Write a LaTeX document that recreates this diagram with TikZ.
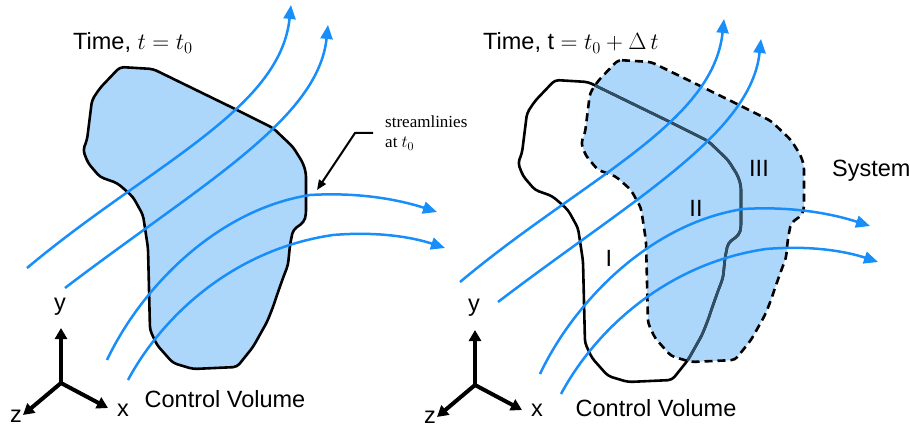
\RequirePackage{fix-cm}
\documentclass[tikz,border=0pt]{standalone}
\usepackage{fontspec}
\setmainfont{Liberation Sans}
\newfontfamily\seriffont{Liberation Serif}
\usetikzlibrary{arrows.meta}
\definecolor{cvblue}{RGB}{172,214,250}
\definecolor{streamblue}{RGB}{24,142,250}
\definecolor{slate}{RGB}{48,78,100}
\def\blob{(120,67) -- (153,69) -- (233,108) -- (273,128) -- (293,147) -- (303,163) -- (306,173) -- (306,215) -- (304,222) -- (293,230) -- (290,245) -- (288,265) -- (283,278) -- (277,295) -- (273,307) -- (267,322) -- (253,347) -- (237,367) -- (193,369) -- (173,363) -- (157,345) -- (150,330) -- (148,248) -- (143,215) -- (133,197) -- (123,188) -- (117,183) -- (100,177) -- (88,163) -- (83,150) -- (87,140) -- (92,100) -- (100,88) -- cycle}
\def\slA{(27,268) .. controls (150,165) and (280,110) .. (291,5)}
\def\slB{(65,288) .. controls (200,185) and (318,120) .. (328,25)}
\def\slC{(107,360) .. controls (140,290) and (215,210) .. (310,195) .. controls (360,192) and (400,200) .. (437,212)}
\def\slD{(128,380) .. controls (160,320) and (230,250) .. (333,235) .. controls (380,231) and (415,238) .. (445,248)}
\begin{document}
\begin{tikzpicture}[x=1pt,y=-1pt,
  cvline/.style={draw=black,line width=2.6pt,rounded corners=4pt,line join=round},
  sysline/.style={draw=black,line width=2.6pt,rounded corners=4pt,dash pattern=on 8pt off 5pt},
  slateline/.style={draw=slate,line width=2.6pt,rounded corners=4pt,line join=round},
  stream/.style={draw=streamblue,line width=2.5pt,-{Triangle[length=14pt,width=12pt]}},
  axis/.style={draw=black,line width=4pt,-{Triangle[length=11pt,width=12pt]}},
  leader/.style={draw=black,line width=2pt,-{Triangle[length=10pt,width=8pt]}},
  lab/.style={font=\fontsize{23.5}{28}\selectfont,inner sep=0pt},
  note/.style={font=\seriffont\fontsize{17}{20}\selectfont,inner sep=0pt,align=left}]
\useasboundingbox (0,0) rectangle (910,430);
% ---------- left panel ----------
\path[cvline,fill=cvblue] \blob;
\draw[stream] \slA;
\draw[stream] \slB;
\draw[stream] \slC;
\draw[stream] \slD;
\node[lab,anchor=base west] (titleL) at (73,50) {Time, $t=t_0$};
\node[note,anchor=base west] (noteA) at (385,128) {streamlinies};
\node[note,anchor=base west] (noteB) at (385,148) {at $t_0$};
\coordinate (lead) at (373,133);
\coordinate (leadtip) at (317,190);
\draw[leader] (lead) -- (355,133) -- (leadtip);
\node[lab] (cvL) at (225,399) {Control Volume};
\coordinate (oL) at (61,383);
\coordinate (yL) at (61,328);
\coordinate (xL) at (108,408);
\coordinate (zL) at (23,415);
\draw[axis] (oL) -- (yL);
\draw[axis] (oL) -- (xL);
\draw[axis] (oL) -- (zL);
\node[lab] (ylabL) at (60,307) {y};
\node[lab] (xlabL) at (123,410) {x};
\node[lab] (zlabL) at (16,416) {z};
% ---------- right panel ----------
\path[fill=cvblue,rounded corners=4pt,shift={(498,-7)}] \blob;
\path[cvline,shift={(435,13)}] \blob;
\begin{scope}
  \path[clip,rounded corners=4pt,shift={(498,-7)}] \blob;
  \path[slateline,shift={(435,13)}] \blob;
\end{scope}
\path[sysline,shift={(498,-7)}] \blob;
\begin{scope}[shift={(433,14)}]
  \draw[stream] \slA;
  \draw[stream] \slB;
  \draw[stream] \slC;
  \draw[stream] \slD;
\end{scope}
\node[lab,anchor=base west] (titleR) at (483,50) {Time, t $=t_0+\Delta\,t$};
\node[lab,anchor=base west] (sys) at (832,177) {System};
\node[lab,anchor=base] (r3) at (759,177) {III};
\node[lab,anchor=base] (r2) at (696,217) {II};
\node[lab,anchor=base] (r1) at (609,267) {I};
\node[lab] (cvR) at (656,408) {Control Volume};
\coordinate (oR) at (475,385);
\coordinate (yR) at (475,330);
\coordinate (xR) at (522,410);
\coordinate (zR) at (437,417);
\draw[axis] (oR) -- (yR);
\draw[axis] (oR) -- (xR);
\draw[axis] (oR) -- (zR);
\node[lab] (ylabR) at (474,308) {y};
\node[lab] (xlabR) at (537,410) {x};
\node[lab] (zlabR) at (430,417) {z};
\end{tikzpicture}
\end{document}
